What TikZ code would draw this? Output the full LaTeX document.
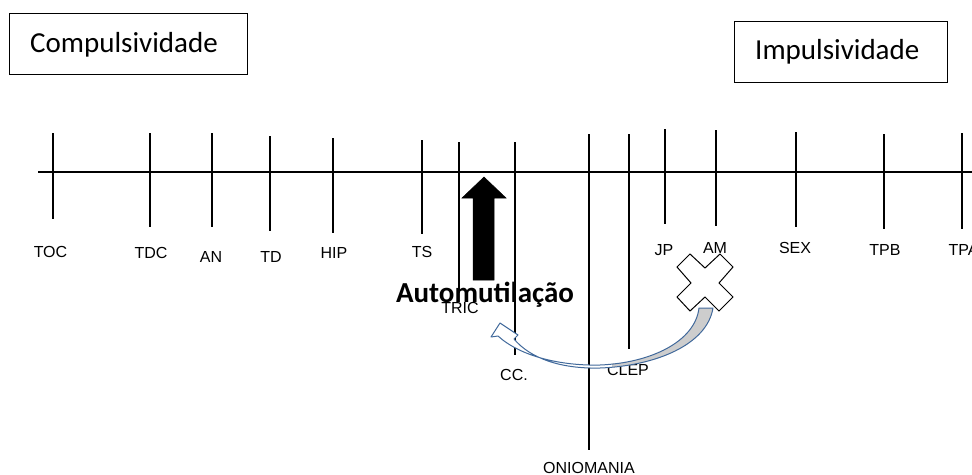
\documentclass[tikz,border=0pt]{standalone}
\usepackage{fontspec}
\setmainfont{Liberation Sans}
\newfontfamily\calibri{Carlito}
\definecolor{arrowblue}{RGB}{65,105,155}
\definecolor{arrowgray}{RGB}{205,205,205}
\begin{document}
\begin{tikzpicture}[x=1pt,y=-1pt,
  tickline/.style={line width=1.5pt, black},
  axisline/.style={line width=1.5pt, black},
  lab/.style={anchor=base, inner sep=0pt, font=\fontsize{16}{18}\selectfont},
  titlebox/.style={draw=black, line width=1pt, inner sep=0pt},
  titletext/.style={anchor=base west, inner sep=0pt, font=\calibri\fontsize{29}{33}\selectfont},
  boldtext/.style={anchor=base, inner sep=0pt, font=\calibri\bfseries\fontsize{29}{33}\selectfont},
  blockarrow/.style={fill=black, draw=black, line width=0.5pt},
  crossshape/.style={fill=white, draw=black, line width=1pt},
  curvedarrow/.style={draw=arrowblue, line width=1pt, line join=round}
]
\useasboundingbox (0,0) rectangle (972,474);
\clip (0,0) rectangle (972,474);

% title boxes
\node[titlebox, minimum width=237.5pt, minimum height=61pt] (compbox) at (128.25,43.5) {};
\node[titletext] (comptext) at (30,52) {Compulsividade};
\node[titlebox, minimum width=213pt, minimum height=61pt] (impbox) at (840.5,51.5) {};
\node[titletext] (imptext) at (755,59) {Impulsividade};

% axis
\coordinate (axL) at (38,172);
\coordinate (axR) at (972,172);
\draw[axisline] (axL) -- (axR);

% ticks and labels
\foreach \id/\x/\t/\b/\lx/\ly/\txt in {
  toc/53/133/219/50.5/257/TOC,
  tdc/150/133/227/151/258/TDC,
  an/212/133/227/211/262/AN,
  td/270/136/231/271/262/TD,
  hip/333/138/233/334/258/HIP,
  ts/422/140/234/422/257/TS,
  tric/459/142/293/460/313/TRIC,
  cc/515/142/355/514/380/CC.,
  onio/589/134/450/589/473/ONIOMANIA,
  clep/629/134/349/628/375/CLEP,
  jp/665/129/224/664/255/JP,
  am/716/130/226/715/253/AM,
  sex/796/132/227/795/253/SEX,
  tpb/884/134/229/885/255/TPB,
  tpa/962/133/229/963.5/255/TPA}
{
  \coordinate (\id-t) at (\x,\t);
  \coordinate (\id-b) at (\x,\b);
  \draw[tickline] (\id-t) -- (\id-b);
  \node[lab] (\id-lab) at (\lx,\ly) {\txt};
}

% big black up arrow
\draw[blockarrow] (473,280) -- (473,198) -- (462,198) -- (484,177) -- (506,198) -- (494,198) -- (494,280) -- cycle;
\node[boldtext] (automut) at (485,302) {Automutilação};

% cross
\draw[crossshape] (690,254) -- (705,268) -- (720,254) -- (733,267) -- (719,283) -- (733,297)
  -- (719,311) -- (705,297) -- (690,311) -- (677,297) -- (691,283) -- (677,267) -- cycle;

% curved arrow
\def\curvedpath{(713,308) .. controls (707,345) and (655,366) .. (600,368)
  .. controls (560,369) and (530,358) .. (514,339)
  -- (518,335) -- (500,323) -- (491,337) -- (498,336)
  .. controls (520,356) and (560,366) .. (600,365)
  .. controls (650,363) and (695,342) .. (699,308) -- cycle}
\fill[white] \curvedpath;
\begin{scope}
  \clip (612,0) rectangle (972,474);
  \fill[arrowgray] \curvedpath;
\end{scope}
\draw[curvedarrow] \curvedpath;
\end{tikzpicture}
\end{document}
